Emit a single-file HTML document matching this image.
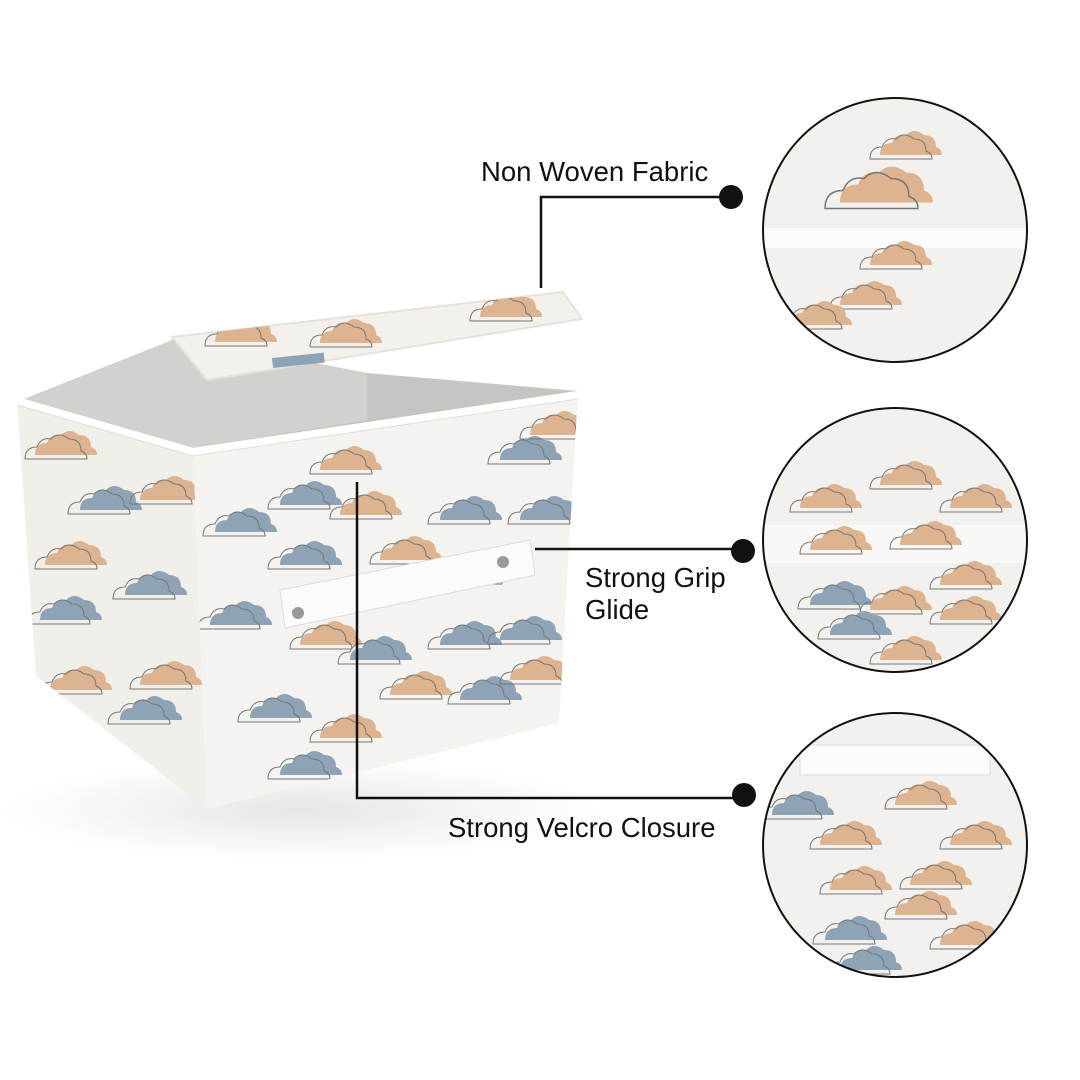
<!DOCTYPE html>
<html><head><style>
body{margin:0;width:1080px;height:1080px;background:#fff;overflow:hidden;position:relative;font-family:"Liberation Sans",sans-serif}
.t{position:absolute;font-size:27.5px;color:#111;line-height:32px}
</style></head><body>
<svg width="1080" height="1080" style="position:absolute;left:0;top:0">
<defs>
<g id="cb"><path d="M0 20 q0-12 12-12 q4-10 14-8 q8-8 18 0 q12 0 12 12 q6 2 6 8z" fill="#8ea4b6"/><path d="M-12 24 q0-12 12-12 q4-10 14-8 q8-8 18 0 q12 0 12 12 q6 2 6 8z" fill="none" stroke="#777" stroke-width="1"/></g>
<g id="co"><path d="M0 20 q0-12 12-12 q4-10 14-8 q8-8 18 0 q12 0 12 12 q6 2 6 8z" fill="#ddb48f"/><path d="M-10 24 q0-12 12-12 q4-10 14-8 q8-8 18 0 q12 0 12 12 q6 2 6 8z" fill="none" stroke="#777" stroke-width="1"/></g>
<clipPath id="c1"><circle cx="895" cy="230" r="132"/></clipPath>
<clipPath id="c2"><circle cx="895" cy="540" r="132"/></clipPath>
<clipPath id="c3"><circle cx="895" cy="845" r="132"/></clipPath>
<clipPath id="fr"><polygon points="193,448 578,391 559,723 207,809"/></clipPath>
<clipPath id="lf"><polygon points="17,401 193,448 207,809 36,676"/></clipPath>
<clipPath id="ld"><polygon points="172,337 563,292 582,319 207,380"/></clipPath>
<radialGradient id="sh"><stop offset="0" stop-color="#e6e6e6"/><stop offset="1" stop-color="#fff"/></radialGradient>
</defs>
<ellipse cx="300" cy="810" rx="300" ry="50" fill="url(#sh)"/>
<!-- interior -->
<polygon points="19,401 180,337 367,373 578,391 193,448" fill="#c7c5c2"/>
<polygon points="180,337 367,373 367,420 193,448 19,401" fill="#d3d1ce"/>
<!-- left face -->
<polygon points="17,401 193,448 207,809 36,676" fill="#f1efea"/>
<!-- front face -->
<polygon points="193,448 578,391 559,723 207,809" fill="#f5f3ef"/>
<g clip-path="url(#fr)">
<use href="#cb" x="215" y="512"/><use href="#co" x="320" y="450"/><use href="#cb" x="280" y="485"/>
<use href="#co" x="340" y="495"/><use href="#cb" x="440" y="500"/><use href="#cb" x="500" y="440"/>
<use href="#co" x="530" y="415"/><use href="#cb" x="520" y="500"/><use href="#co" x="380" y="540"/>
<use href="#co" x="450" y="560"/><use href="#cb" x="280" y="545"/><use href="#cb" x="210" y="605"/>
<use href="#co" x="300" y="625"/><use href="#cb" x="350" y="640"/><use href="#cb" x="440" y="625"/>
<use href="#cb" x="500" y="620"/><use href="#co" x="390" y="675"/><use href="#cb" x="250" y="698"/>
<use href="#co" x="320" y="718"/><use href="#cb" x="460" y="680"/><use href="#cb" x="280" y="755"/>
<use href="#co" x="510" y="660"/>
</g>
<g clip-path="url(#lf)">
<use href="#co" x="35" y="435"/><use href="#cb" x="80" y="490"/><use href="#co" x="140" y="480"/>
<use href="#cb" x="125" y="575"/><use href="#co" x="45" y="545"/><use href="#cb" x="40" y="600"/>
<use href="#co" x="140" y="665"/><use href="#cb" x="120" y="700"/><use href="#co" x="50" y="670"/>
</g>
<polyline points="17,401 193,452 578,395" fill="none" stroke="#fff" stroke-width="8"/>
<polyline points="17,405 193,456 578,399" fill="none" stroke="#ddd" stroke-width="1"/>
<!-- handle -->
<polygon points="280,590 530,540 535,575 285,628" fill="#fbfbf9" stroke="#ddd"/>
<circle cx="298" cy="613" r="6" fill="#999"/><circle cx="503" cy="562" r="6" fill="#999"/>
<!-- lid flap -->
<polygon points="172,337 563,292 582,319 207,380" fill="#f4f1ec" stroke="#e5e2dc" stroke-width="2"/>
<g clip-path="url(#ld)">
<use href="#co" x="215" y="322"/><use href="#co" x="320" y="323"/><use href="#co" x="480" y="297"/>
</g>
<rect x="272" y="358" width="52" height="10" fill="#8ea4b6" transform="rotate(-6 272 358)"/>
<!-- connectors -->
<g stroke="#111" stroke-width="2.5" fill="none">
<polyline points="541,288 541,197 731,197"/>
<line x1="535" y1="549" x2="743" y2="549"/>
<polyline points="357,482 357,798 744,798"/>
</g>
<circle cx="731" cy="197" r="12" fill="#111"/>
<circle cx="743" cy="551" r="12" fill="#111"/>
<circle cx="744" cy="795" r="12" fill="#111"/>
<!-- circles -->
<g clip-path="url(#c1)"><rect x="760" y="95" width="270" height="270" fill="#f3f1ed"/>
<rect x="760" y="228" width="270" height="20" fill="#fbfbfa"/>
<use href="#co" x="840" y="175" transform="translate(-420 -90) scale(1.5)"/>
<use href="#co" x="880" y="135"/><use href="#co" x="870" y="245"/><use href="#co" x="840" y="285"/>
<use href="#co" x="790" y="305"/></g>
<g clip-path="url(#c2)"><rect x="760" y="405" width="270" height="270" fill="#f3f1ed"/>
<rect x="760" y="525" width="270" height="38" fill="#f9f8f6"/>
<use href="#co" x="800" y="488"/><use href="#co" x="880" y="465"/><use href="#co" x="950" y="488"/>
<use href="#co" x="810" y="530"/><use href="#co" x="900" y="525"/><use href="#co" x="940" y="565"/>
<use href="#cb" x="810" y="585"/><use href="#co" x="870" y="590"/><use href="#cb" x="830" y="615"/>
<use href="#co" x="940" y="600"/><use href="#co" x="880" y="640"/></g>
<g clip-path="url(#c3)"><rect x="760" y="710" width="270" height="270" fill="#f3f1ed"/>
<rect x="800" y="745" width="190" height="30" fill="#fbfbfa" stroke="#ddd"/>
<use href="#cb" x="772" y="795"/><use href="#co" x="895" y="785"/><use href="#co" x="820" y="825"/>
<use href="#co" x="950" y="825"/><use href="#co" x="830" y="870"/><use href="#co" x="910" y="865"/>
<use href="#co" x="895" y="895"/><use href="#cb" x="825" y="920"/><use href="#co" x="940" y="925"/>
<use href="#cb" x="840" y="950"/></g>
<circle cx="895" cy="230" r="132" fill="none" stroke="#111" stroke-width="2"/>
<circle cx="895" cy="540" r="132" fill="none" stroke="#111" stroke-width="2"/>
<circle cx="895" cy="845" r="132" fill="none" stroke="#111" stroke-width="2"/>
</svg>
<div class="t" style="left:481px;top:156px">Non Woven Fabric</div>
<div class="t" style="left:585px;top:562px">Strong Grip<br>Glide</div>
<div class="t" style="left:448px;top:812px">Strong Velcro Closure</div>
</body></html>
